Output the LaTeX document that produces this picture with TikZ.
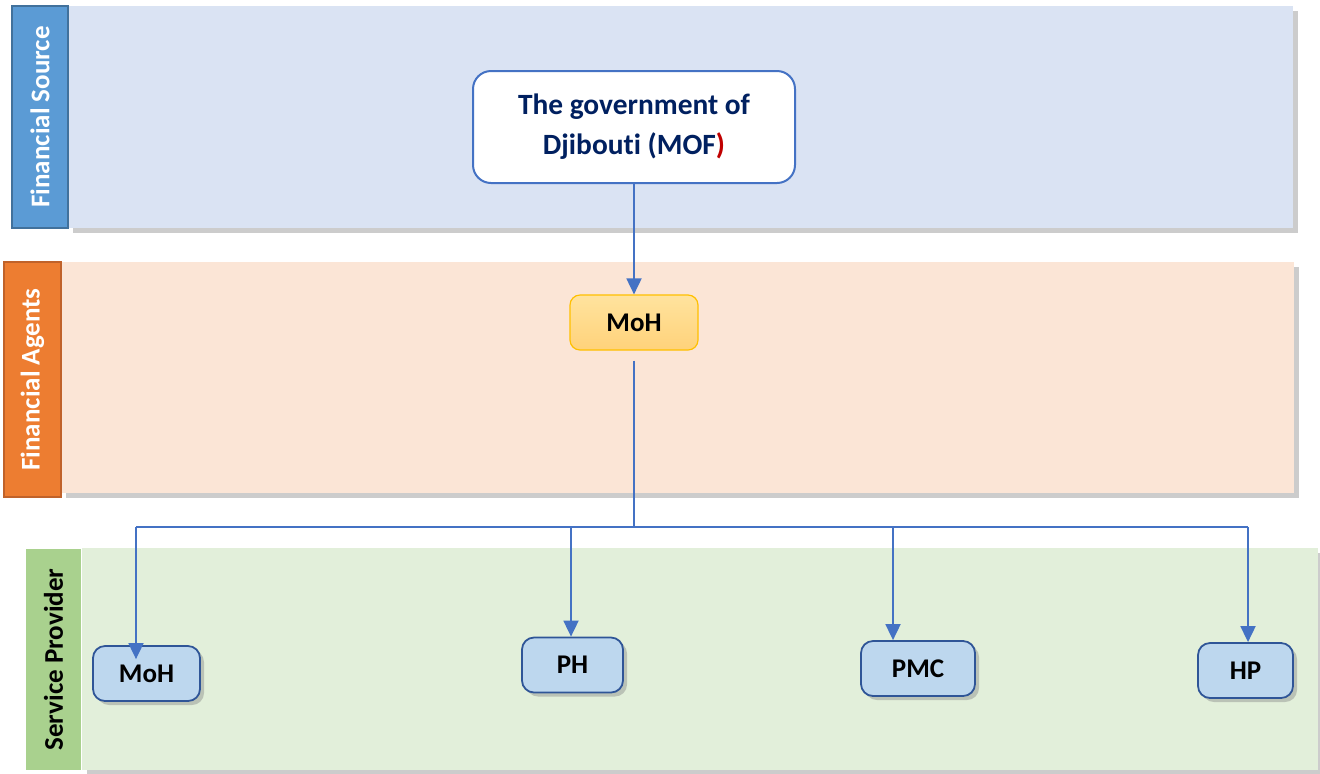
\documentclass[tikz,border=0pt]{standalone}
\usepackage{fontspec}
\setmainfont{Carlito}[Ligatures=NoCommon]
\usetikzlibrary{positioning, arrows.meta, shadows}

\definecolor{srcFill}{HTML}{DAE3F3}
\definecolor{srcTag}{HTML}{5B9BD5}
\definecolor{srcEdge}{HTML}{41719C}
\definecolor{agtFill}{HTML}{FBE5D6}
\definecolor{agtTag}{HTML}{ED7D31}
\definecolor{agtEdge}{HTML}{C0622A}
\definecolor{provFill}{HTML}{E2EFDA}
\definecolor{provTag}{HTML}{A9D18E}
\definecolor{lineBlue}{HTML}{4472C4}
\definecolor{navy}{HTML}{002060}
\definecolor{unitFill}{HTML}{BDD7EE}
\definecolor{unitEdge}{HTML}{2F5597}
\definecolor{moTop}{HTML}{FFE39E}
\definecolor{moBot}{HTML}{FFD27A}
\definecolor{moEdge}{HTML}{FFC000}
\definecolor{parRed}{HTML}{C00000}

\begin{document}
\begin{tikzpicture}[
    x=0.5pt, y=-0.5pt, % pixel grid of the reference
    band/.style={inner sep=0pt, anchor=north west,
      drop shadow={shadow xshift=2.5pt, shadow yshift=-2.5pt, opacity=0.4}}, % Style for level bands
    tag/.style={rotate=90, inner sep=0pt, font=\fontsize{13.5pt}{16pt}\selectfont\bfseries}, % Style for band labels
    unit/.style={draw=unitEdge, line width=0.9pt, fill=unitFill, rounded corners=6pt,
      minimum height=27.5pt, font=\fontsize{13.5pt}{16pt}\selectfont\bfseries,
      drop shadow={shadow xshift=2pt, shadow yshift=-2pt, opacity=0.4}}, % Style for providers
    wire/.style={draw=lineBlue, line width=0.9pt}, % Style for plain lines
    link/.style={wire, -{Triangle[length=8pt, width=7.5pt]}} % Style for arrows
  ]
    \useasboundingbox (0,0) rectangle (1320,773);

    % Bands
    \node (FSB) [band, fill=srcFill, minimum width=612.5pt, minimum height=111pt]   at (68,6)   {};
    \node (FAB) [band, fill=agtFill, minimum width=616.5pt, minimum height=115.5pt] at (61,262)  {};
    \node (SPB) [band, fill=provFill, minimum width=618pt, minimum height=111pt]    at (82,548) {};

    % Band labels
    \node (FS) [tag, fill=srcTag, draw=srcEdge, line width=0.8pt, text=white,
      minimum width=111pt, minimum height=28pt]    at (40,117)    {Financial Source};
    \node (FA) [tag, fill=agtTag, draw=agtEdge, line width=0.8pt, text=white,
      minimum width=117.5pt, minimum height=28.5pt] at (32.5,379.5) {Financial Agents};
    \node (SP) [tag, fill=provTag, text=black,
      minimum width=110.5pt, minimum height=27.5pt] at (53.5,659.5) {Service Provider};

    % Define nodes
    \node (GOV) [draw=lineBlue, line width=1pt, fill=white, rounded corners=9pt,
      minimum width=161pt, minimum height=56pt, align=center, text=navy,
      font=\fontsize{14.7pt}{20pt}\selectfont\bfseries] at (634,127)
      {The government of\\Djibouti (MOF\textcolor{parRed}{)}};
    \node (MOH) [draw=moEdge, line width=0.6pt, top color=moTop, bottom color=moBot,
      rounded corners=5pt, minimum width=64pt, minimum height=27.5pt,
      font=\fontsize{13.5pt}{16pt}\selectfont\bfseries] at (634,322.5) {MoH};

    \node (SMOH) [unit, minimum width=53.5pt] at (146.5,673.5) {MoH};
    \node (PH)   [unit, minimum width=50.5pt] at (572.5,665)   {PH};
    \node (PMC)  [unit, minimum width=57pt]   at (918,668.5)   {PMC};
    \node (HP)   [unit, minimum width=47.5pt] at (1245.5,670.5) {HP};

    % Bus points
    \coordinate (hub) at (634,527);
    \coordinate (t1) at (136,527);
    \coordinate (t2) at (571,527);
    \coordinate (t3) at (893,527);
    \coordinate (t4) at (1248,527);

    % Draw arrows
    \draw[link] (GOV) -- (MOH);
    \draw[wire, shorten <=5pt] (MOH) -- (hub);
    \draw[wire] (t1) -- (t4);
    \draw[link, shorten >=-7pt] (t1) -- (t1 |- SMOH.north);
    \draw[link] (t2) -- (t2 |- PH.north);
    \draw[link] (t3) -- (t3 |- PMC.north);
    \draw[link] (t4) -- (t4 |- HP.north);
\end{tikzpicture}
\end{document}
